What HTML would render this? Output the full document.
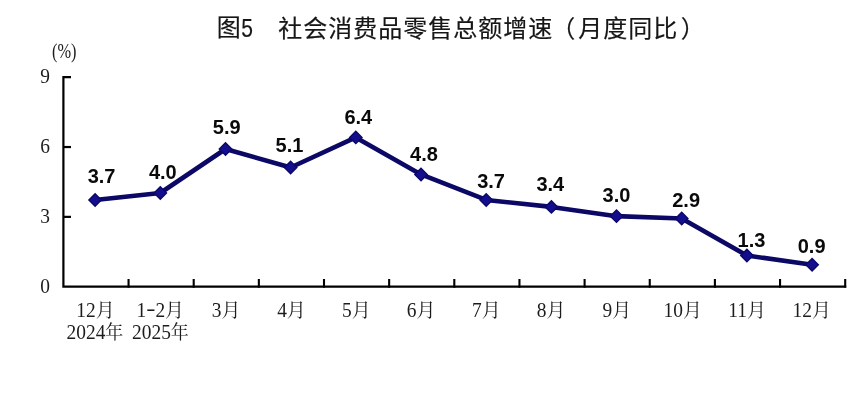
<!DOCTYPE html>
<html lang="zh-CN">
<head>
<meta charset="utf-8">
<title>图5 社会消费品零售总额增速（月度同比）</title>
<style>
html,body{margin:0;padding:0;background:#fff;}
body{width:865px;height:403px;overflow:hidden;}
svg{display:block;}
.title{font-family:"Liberation Sans","Noto Sans CJK SC",sans-serif;font-size:24px;fill:#161616;font-weight:400;stroke:#161616;stroke-width:0.18px;}
.ax{font-family:"Liberation Serif","Noto Serif CJK SC",serif;font-size:19.45px;fill:#1c1c1c;font-weight:400;}
.ax .c{font-size:19px;}
.ax .y{font-size:18px;}
.pct{font-family:"Liberation Serif","Noto Serif CJK SC",serif;font-size:20px;fill:#1c1c1c;}
.dl{font-family:"Liberation Sans",sans-serif;font-weight:700;font-size:20px;fill:#0a0a0a;}
</style>
</head>
<body>
<svg width="865" height="403" viewBox="0 0 865 403">
<rect x="0" y="0" width="865" height="403" fill="#ffffff"/>
<text class="title" x="216.70" y="36.80"><tspan dy="-0.8">图</tspan><tspan dy="0.7" dx="0.6" style="font-size:25.4px" textLength="11.7" lengthAdjust="spacingAndGlyphs">5</tspan>　<tspan x="278.15" y="36.80" style="letter-spacing:1px">社会消费品零售总额增速<tspan dx="-2">（</tspan><tspan dx="2">月度同比</tspan><tspan dx="2.5">）</tspan></tspan></text>
<g stroke="#000" stroke-width="2.2" fill="none">
<path d="M71.00 77.2 H63.4 V286.7 H846.20"/>
<path d="M63.4 216.87 h7.6"/>
<path d="M63.4 147.03 h7.6"/>
<path d="M128.55 287.7 V279.0" stroke-width="2.1"/>
<path d="M193.70 287.7 V279.0" stroke-width="2.1"/>
<path d="M258.85 287.7 V279.0" stroke-width="2.1"/>
<path d="M324.00 287.7 V279.0" stroke-width="2.1"/>
<path d="M389.15 287.7 V279.0" stroke-width="2.1"/>
<path d="M454.30 287.7 V279.0" stroke-width="2.1"/>
<path d="M519.45 287.7 V279.0" stroke-width="2.1"/>
<path d="M584.60 287.7 V279.0" stroke-width="2.1"/>
<path d="M649.75 287.7 V279.0" stroke-width="2.1"/>
<path d="M714.90 287.7 V279.0" stroke-width="2.1"/>
<path d="M780.05 287.7 V279.0" stroke-width="2.1"/>
<path d="M845.20 287.7 V279.0" stroke-width="2.1"/>
</g>
<text class="pct" x="64.30" y="58.00" text-anchor="middle" textLength="24.5" lengthAdjust="spacingAndGlyphs">(%)</text>
<text class="ax" transform="translate(45.00 292.70) scale(1 1.043)" text-anchor="middle">0</text>
<text class="ax" transform="translate(45.00 222.87) scale(1 1.043)" text-anchor="middle">3</text>
<text class="ax" transform="translate(45.00 153.03) scale(1 1.043)" text-anchor="middle">6</text>
<text class="ax" transform="translate(45.00 83.20) scale(1 1.043)" text-anchor="middle">9</text>
<text class="ax" transform="translate(95.50 316.80) scale(1 1.043)" text-anchor="middle">12<tspan class="c">月</tspan></text>
<text class="ax" transform="translate(160.28 316.80) scale(1 1.043)" text-anchor="middle">1<tspan dy="-2" textLength="9.2" lengthAdjust="spacingAndGlyphs">-</tspan><tspan dy="2">2</tspan><tspan class="c">月</tspan></text>
<text class="ax" transform="translate(226.10 316.80) scale(1 1.043)" text-anchor="middle">3<tspan class="c">月</tspan></text>
<text class="ax" transform="translate(291.50 316.80) scale(1 1.043)" text-anchor="middle">4<tspan class="c">月</tspan></text>
<text class="ax" transform="translate(356.40 316.80) scale(1 1.043)" text-anchor="middle">5<tspan class="c">月</tspan></text>
<text class="ax" transform="translate(421.05 316.80) scale(1 1.043)" text-anchor="middle">6<tspan class="c">月</tspan></text>
<text class="ax" transform="translate(486.30 316.80) scale(1 1.043)" text-anchor="middle">7<tspan class="c">月</tspan></text>
<text class="ax" transform="translate(551.10 316.80) scale(1 1.043)" text-anchor="middle">8<tspan class="c">月</tspan></text>
<text class="ax" transform="translate(616.95 316.80) scale(1 1.043)" text-anchor="middle">9<tspan class="c">月</tspan></text>
<text class="ax" transform="translate(682.70 316.80) scale(1 1.043)" text-anchor="middle">10<tspan class="c">月</tspan></text>
<text class="ax" transform="translate(747.15 316.80) scale(1 1.043)" text-anchor="middle">11<tspan class="c">月</tspan></text>
<text class="ax" transform="translate(811.75 316.80) scale(1 1.043)" text-anchor="middle">12<tspan class="c">月</tspan></text>
<text class="ax" transform="translate(94.90 338.70) scale(1 1.043)" text-anchor="middle">2024<tspan class="y">年</tspan></text>
<text class="ax" transform="translate(160.40 338.70) scale(1 1.043)" text-anchor="middle">2025<tspan class="y">年</tspan></text>
<polyline points="95.1,199.96 160.3,193.01 225.5,149.01 290.6,167.53 355.8,137.43 421.0,174.48 486.2,199.96 551.4,206.91 616.5,216.17 681.7,218.49 746.9,255.54 812.1,264.81" fill="none" stroke="#0b0866" stroke-width="4.6" stroke-linejoin="round" stroke-linecap="round"/>
<path d="M95.1 193.76 L101.3 199.96 L95.1 206.16 L88.9 199.96 Z" fill="#130e8e" stroke="#0b0866" stroke-width="1.4" stroke-linejoin="miter"/>
<path d="M160.3 186.81 L166.5 193.01 L160.3 199.21 L154.1 193.01 Z" fill="#130e8e" stroke="#0b0866" stroke-width="1.4" stroke-linejoin="miter"/>
<path d="M225.5 142.81 L231.7 149.01 L225.5 155.21 L219.3 149.01 Z" fill="#130e8e" stroke="#0b0866" stroke-width="1.4" stroke-linejoin="miter"/>
<path d="M290.6 161.33 L296.8 167.53 L290.6 173.73 L284.4 167.53 Z" fill="#130e8e" stroke="#0b0866" stroke-width="1.4" stroke-linejoin="miter"/>
<path d="M355.8 131.23 L362.0 137.43 L355.8 143.63 L349.6 137.43 Z" fill="#130e8e" stroke="#0b0866" stroke-width="1.4" stroke-linejoin="miter"/>
<path d="M421.0 168.28 L427.2 174.48 L421.0 180.68 L414.8 174.48 Z" fill="#130e8e" stroke="#0b0866" stroke-width="1.4" stroke-linejoin="miter"/>
<path d="M486.2 193.76 L492.4 199.96 L486.2 206.16 L480.0 199.96 Z" fill="#130e8e" stroke="#0b0866" stroke-width="1.4" stroke-linejoin="miter"/>
<path d="M551.4 200.71 L557.6 206.91 L551.4 213.11 L545.2 206.91 Z" fill="#130e8e" stroke="#0b0866" stroke-width="1.4" stroke-linejoin="miter"/>
<path d="M616.5 209.97 L622.7 216.17 L616.5 222.37 L610.3 216.17 Z" fill="#130e8e" stroke="#0b0866" stroke-width="1.4" stroke-linejoin="miter"/>
<path d="M681.7 212.29 L687.9 218.49 L681.7 224.69 L675.5 218.49 Z" fill="#130e8e" stroke="#0b0866" stroke-width="1.4" stroke-linejoin="miter"/>
<path d="M746.9 249.34 L753.1 255.54 L746.9 261.74 L740.7 255.54 Z" fill="#130e8e" stroke="#0b0866" stroke-width="1.4" stroke-linejoin="miter"/>
<path d="M812.1 258.61 L818.3 264.81 L812.1 271.01 L805.9 264.81 Z" fill="#130e8e" stroke="#0b0866" stroke-width="1.4" stroke-linejoin="miter"/>
<text class="dl" x="101.55" y="183.30" text-anchor="middle">3.7</text>
<text class="dl" x="162.85" y="178.50" text-anchor="middle">4.0</text>
<text class="dl" x="226.70" y="133.50" text-anchor="middle">5.9</text>
<text class="dl" x="289.45" y="151.50" text-anchor="middle">5.1</text>
<text class="dl" x="358.30" y="123.50" text-anchor="middle">6.4</text>
<text class="dl" x="423.95" y="160.50" text-anchor="middle">4.8</text>
<text class="dl" x="491.10" y="187.50" text-anchor="middle">3.7</text>
<text class="dl" x="550.35" y="190.70" text-anchor="middle">3.4</text>
<text class="dl" x="616.50" y="201.70" text-anchor="middle">3.0</text>
<text class="dl" x="686.15" y="206.50" text-anchor="middle">2.9</text>
<text class="dl" x="751.45" y="246.50" text-anchor="middle">1.3</text>
<text class="dl" x="811.65" y="252.60" text-anchor="middle">0.9</text>
</svg>
</body>
</html>
